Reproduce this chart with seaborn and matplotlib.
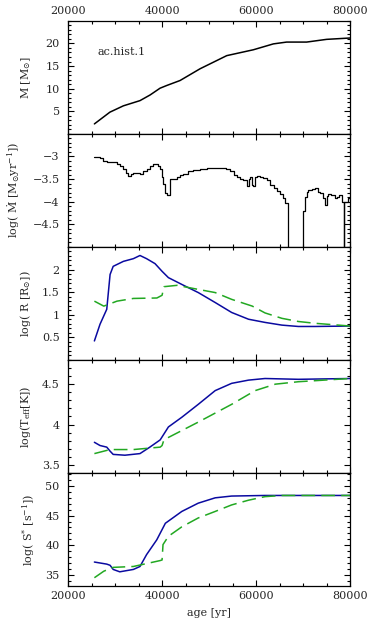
import numpy as np
import pandas as pd
import matplotlib
matplotlib.use('Agg')
import matplotlib.pyplot as plt
import seaborn as sns
from matplotlib.ticker import MultipleLocator

# ========== data ==========
age_m = [25600, 28900, 31770, 35300, 37450, 39570, 41000, 43830, 48090,
         53760, 59430, 63690, 66500, 70760, 75000, 80000]
mass = [2.2, 4.8, 6.2, 7.35, 8.6, 10.1, 10.7, 11.8, 14.4,
        17.3, 18.6, 19.9, 20.3, 20.3, 20.9, 21.2]

age_mdot = [25600, 26800, 27500, 28230, 29300, 30360, 31000, 31770, 32300, 32840,
            33400, 33900, 34600, 35320, 36000, 36740, 37400, 38160, 38870, 39200,
            39570, 40000, 40280, 40640, 41000, 41350, 41700, 42400, 43120, 43800,
            44540, 45600, 46670, 48000, 49500, 51000, 52350, 53500, 54480, 55200,
            55900, 56600, 57320, 58030, 58400, 58740, 59100, 59450, 59800, 60160,
            60900, 61580, 62290, 63000, 63710, 64400, 65130, 65700, 66190, 66690,
            69740, 70090, 70450, 70800, 71150, 71510, 72000, 72570, 73100, 73640,
            74200, 74700, 75050, 75410, 76000, 76480, 76800, 77190, 77550, 77900,
            78300, 78610, 78800, 79320, 79600, 80000]
log_mdot = [-3.02, -3.04, -3.10, -3.13, -3.12, -3.16, -3.22, -3.28, -3.36, -3.43,
            -3.38, -3.37, -3.36, -3.39, -3.33, -3.27, -3.20, -3.17, -3.16, -3.22,
            -3.28, -3.45, -3.60, -3.80, -3.85, -3.86, -3.50, -3.49, -3.46, -3.42,
            -3.38, -3.33, -3.30, -3.27, -3.26, -3.25, -3.25, -3.28, -3.32, -3.40,
            -3.45, -3.50, -3.53, -3.66, -3.50, -3.45, -3.62, -3.66, -3.45, -3.43,
            -3.45, -3.47, -3.53, -3.62, -3.70, -3.76, -3.83, -3.92, -4.03, -6.0,
            -6.0, -4.20, -3.90, -3.78, -3.74, -3.74, -3.72, -3.70, -3.78, -3.80,
            -3.92, -4.07, -3.88, -3.82, -3.86, -3.86, -3.92, -3.90, -3.86, -3.86,
            -4.00, -6.0, -4.00, -4.00, -3.92, -3.95]

age_r1 = [25600, 26800, 28230, 28940, 29600, 31770, 33900, 35300, 36700, 38500,
          40000, 41350, 44200, 47700, 51300, 54800, 58400, 61900, 65500, 69000,
          72600, 80000]
log_r1 = [0.42, 0.79, 1.12, 1.89, 2.07, 2.18, 2.24, 2.31, 2.24, 2.13,
          1.96, 1.82, 1.67, 1.49, 1.27, 1.05, 0.90, 0.83, 0.77, 0.74,
          0.74, 0.75]
age_r2 = [25600, 27600, 30400, 33900, 38900, 40000, 40400, 43200, 47700, 51300,
          54800, 59200, 61900, 65500, 69000, 72600, 80000]
log_r2 = [1.30, 1.19, 1.30, 1.36, 1.37, 1.43, 1.62, 1.65, 1.56, 1.49,
          1.34, 1.19, 1.04, 0.92, 0.85, 0.81, 0.75]

age_t1 = [25600, 26800, 28230, 28940, 29600, 32100, 35300, 37400, 39600, 41350,
          44200, 47700, 51300, 54800, 58400, 61900, 69000, 80000]
log_t1 = [3.78, 3.74, 3.72, 3.67, 3.63, 3.62, 3.64, 3.72, 3.81, 3.97,
          4.09, 4.25, 4.42, 4.51, 4.55, 4.57, 4.56, 4.57]
age_t2 = [25600, 28940, 33900, 39600, 40000, 40400, 41350, 47700, 54800,
          59800, 64100, 69000, 80000]
log_t2 = [3.64, 3.69, 3.69, 3.72, 3.74, 3.81, 3.84, 4.03, 4.25,
          4.42, 4.50, 4.53, 4.57]

age_s1 = [25600, 28230, 28940, 29600, 31000, 33900, 35300, 36700, 38870, 40700,
          44200, 47700, 51300, 54800, 61900, 80000]
log_s1 = [37.15, 36.8, 36.6, 35.9, 35.5, 35.9, 36.4, 38.4, 40.9, 43.7,
          45.7, 47.1, 48.0, 48.3, 48.4, 48.4]
age_s2 = [25600, 27600, 29600, 33900, 39600, 40000, 40200, 41350, 44200, 47700,
          51300, 54800, 58400, 61900, 65500, 80000]
log_s2 = [34.5, 35.6, 36.25, 36.4, 37.4, 37.5, 40.1, 41.5, 43.1, 44.6,
          45.7, 46.8, 47.6, 48.2, 48.4, 48.4]

blue = '#0a0aa0'
green = '#22a822'

sns.set_style('ticks')
plt.rcParams['font.family'] = ['DejaVu Serif']
plt.rcParams['mathtext.fontset'] = 'dejavuserif'
plt.rcParams['font.size'] = 8

fig, axes = plt.subplots(5, 1, figsize=(3.74, 6.31), dpi=100, sharex=True)
fig.subplots_adjust(left=0.182, right=0.936, top=0.967, bottom=0.0713, hspace=0)

# 1. mass
sns.lineplot(x=age_m, y=mass, ax=axes[0], color='black', lw=1.1)
axes[0].set_ylim(0, 25)
axes[0].yaxis.set_minor_locator(MultipleLocator(1))
axes[0].set_yticks([5, 10, 15, 20])
axes[0].set_ylabel(r'M [M$_{\odot}$]')
axes[0].text(0.103, 0.726, 'ac.hist.1', transform=axes[0].transAxes,
             va='center', ha='left', fontsize=8)

# 2. mass loss rate
axes[1].plot(age_mdot, log_mdot, color='black', lw=0.9, drawstyle='steps-post')
axes[1].set_ylim(-5, -2.5)
axes[1].set_yticks([-4.5, -4, -3.5, -3])
axes[1].set_yticklabels(['\u22124.5', '\u22124', '\u22123.5', '\u22123'])
axes[1].yaxis.set_minor_locator(MultipleLocator(0.1))
axes[1].set_ylabel(r'log( $\dot{\rm M}$ [M$_{\odot}$yr$^{-1}$])')

# 3. radius
sns.lineplot(x=age_r1, y=log_r1, ax=axes[2], color=blue, lw=1.1)
axes[2].plot(age_r2, log_r2, color=green, lw=1.1, dashes=(9, 4))
axes[2].set_ylim(0, 2.5)
axes[2].set_yticks([0.5, 1, 1.5, 2])
axes[2].set_yticklabels(['0.5', '1', '1.5', '2'])
axes[2].yaxis.set_minor_locator(MultipleLocator(0.1))
axes[2].set_ylabel(r'log( R [R$_{\odot}$])')

# 4. effective temperature
sns.lineplot(x=age_t1, y=log_t1, ax=axes[3], color=blue, lw=1.1)
axes[3].plot(age_t2, log_t2, color=green, lw=1.1, dashes=(9, 4))
axes[3].set_ylim(3.4, 4.8)
axes[3].set_yticks([3.5, 4, 4.5])
axes[3].set_yticklabels(['3.5', '4', '4.5'])
axes[3].yaxis.set_minor_locator(MultipleLocator(0.1))
axes[3].set_ylabel(r'log(T$_{\rm eff}$[K])')

# 5. ionizing photons
sns.lineplot(x=age_s1, y=log_s1, ax=axes[4], color=blue, lw=1.1)
axes[4].plot(age_s2, log_s2, color=green, lw=1.1, dashes=(9, 4))
axes[4].set_ylim(33.1, 52.2)
axes[4].set_yticks([35, 40, 45, 50])
axes[4].yaxis.set_minor_locator(MultipleLocator(1))
axes[4].set_ylabel(r'log( S$^{*}$ [s$^{-1}$])')
axes[4].set_xlabel('age [yr]', labelpad=5)

# label offsets differ per panel, as in the original
label_x = [-0.124, -0.163, -0.124, -0.124, -0.110]

for ax, lx in zip(axes, label_x):
    ax.set_xlim(20000, 80000)
    ax.xaxis.set_major_locator(MultipleLocator(20000))
    ax.xaxis.set_minor_locator(MultipleLocator(5000))
    ax.tick_params(which='both', direction='in', top=True, right=True,
                   labelsize=8, width=0.8, color='black')
    ax.tick_params(axis='y', pad=6)
    ax.tick_params(axis='x', pad=3.5)
    ax.tick_params(which='major', length=4.5)
    ax.tick_params(which='minor', length=2.5)
    for s in ax.spines.values():
        s.set_linewidth(0.9)
        s.set_color('black')
    ax.yaxis.set_label_coords(lx, 0.5)

axes[0].tick_params(labeltop=True)

fig.savefig('out.png', dpi=100)
